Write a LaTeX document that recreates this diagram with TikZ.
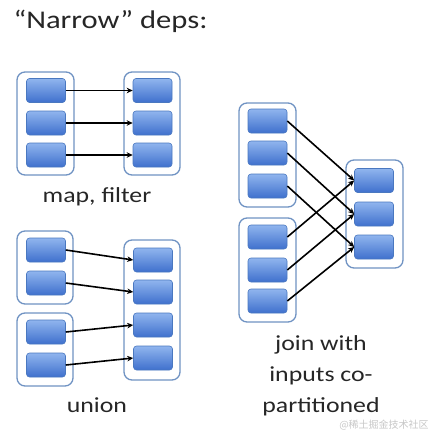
\documentclass[tikz,border=0pt]{standalone}
\usepackage{fontspec}
\setmainfont{Carlito}[FakeStretch=1.2]
\newfontfamily\cjkfont{Noto Sans CJK SC}
\usetikzlibrary{arrows.meta}
\definecolor{partTop}{HTML}{90B5EE}
\definecolor{partBot}{HTML}{3F70CD}
\definecolor{partEdge}{HTML}{4A78C0}
\definecolor{rddEdge}{HTML}{7093C3}
\definecolor{labelGray}{HTML}{262626}

\begin{document}
\begin{tikzpicture}[>=Stealth, x=1pt, y=-1pt]
\tikzset{
    rdd/.style={rectangle, draw=rddEdge, line width=1.3pt, rounded corners=8pt, fill=white, inner sep=0pt},
    part/.style={rectangle, draw=partEdge, line width=0.6pt, rounded corners=3pt, top color=partTop, bottom color=partBot, minimum width=39pt, minimum height=24pt, inner sep=0pt},
    dep/.style={-{Stealth[length=6pt, width=5.5pt]}, line width=1.6pt},
    lbl/.style={text=labelGray, font=\fontsize{21.5}{31}\selectfont}
}
\useasboundingbox (0,0) rectangle (428,434);

% --- Title ---
\node (Title) at (10,21) [anchor=west, text=labelGray, font=\fontsize{25.5}{30}\selectfont] {“Narrow” deps:};

% --- map, filter (top left) ---
\node (MapL) at (45.5,123.5) [rdd, minimum width=57pt, minimum height=103pt] {};
\node (MapR) at (152,123.5) [rdd, minimum width=56pt, minimum height=103pt] {};
\node (MapL1) at (46,90.5) [part] {};
\node (MapL2) at (46,123) [part] {};
\node (MapL3) at (46,155) [part] {};
\node (MapR1) at (152.5,90.5) [part] {};
\node (MapR2) at (152.5,123) [part] {};
\node (MapR3) at (152.5,155) [part] {};

\draw[dep] (MapL1.east) -- (MapR1.west);
\draw[dep] (MapL2.east) -- (MapR2.west);
\draw[dep] (MapL3.east) -- (MapR3.west);
\node (MapLbl) at (97,197) [lbl] {map, filter};

% --- union (bottom left) ---
\node (UniLa) at (45,267.5) [rdd, minimum width=56pt, minimum height=73pt] {};
\node (UniLb) at (45,349.5) [rdd, minimum width=56pt, minimum height=73pt] {};
\node (UniR) at (152,310) [rdd, minimum width=56pt, minimum height=140pt] {};
\node (UniL1) at (46,250) [part] {};
\node (UniL2) at (46,283) [part] {};
\node (UniL3) at (46,332) [part] {};
\node (UniL4) at (46,365) [part] {};
\node (UniR1) at (153,260) [part] {};
\node (UniR2) at (153,292) [part] {};
\node (UniR3) at (153,325) [part] {};
\node (UniR4) at (153,358) [part] {};

\draw[dep] (UniL1.east) -- (UniR1.west);
\draw[dep] (UniL2.east) -- (UniR2.west);
\draw[dep] (UniL3.east) -- (UniR3.west);
\draw[dep] (UniL4.east) -- (UniR4.west);
\node (UniLbl) at (97,405) [lbl] {union};

% --- join with inputs co-partitioned (right) ---
\node (JoinLa) at (267.5,155) [rdd, minimum width=57pt, minimum height=104pt] {};
\node (JoinLb) at (267.5,270) [rdd, minimum width=57pt, minimum height=104pt] {};
\node (JoinR) at (374.5,214) [rdd, minimum width=57pt, minimum height=108pt] {};
\node (JoinA1) at (267.5,121) [part] {};
\node (JoinA2) at (267.5,153) [part] {};
\node (JoinA3) at (267.5,186) [part] {};
\node (JoinB1) at (267.5,237) [part] {};
\node (JoinB2) at (267.5,270) [part] {};
\node (JoinB3) at (267.5,301) [part] {};
\node (JoinR1) at (374,180.5) [part] {};
\node (JoinR2) at (374,214) [part] {};
\node (JoinR3) at (374,247) [part] {};

\draw[dep] (JoinA1.east) -- (JoinR1.west);
\draw[dep] (JoinA2.east) -- (JoinR2.west);
\draw[dep] (JoinA3.east) -- (JoinR3.west);
\draw[dep] (JoinB1.east) -- (JoinR1.west);
\draw[dep] (JoinB2.east) -- (JoinR2.west);
\draw[dep] (JoinB3.east) -- (JoinR3.west);
\node (JoinLbl) at (321,376) [lbl, align=center] {join with\\inputs co-\\partitioned};

% watermark
\node (Mark) at (384,425) [text=black!22, font=\cjkfont\fontsize{10}{12}\selectfont] {@稀土掘金技术社区};
\end{tikzpicture}
\end{document}
